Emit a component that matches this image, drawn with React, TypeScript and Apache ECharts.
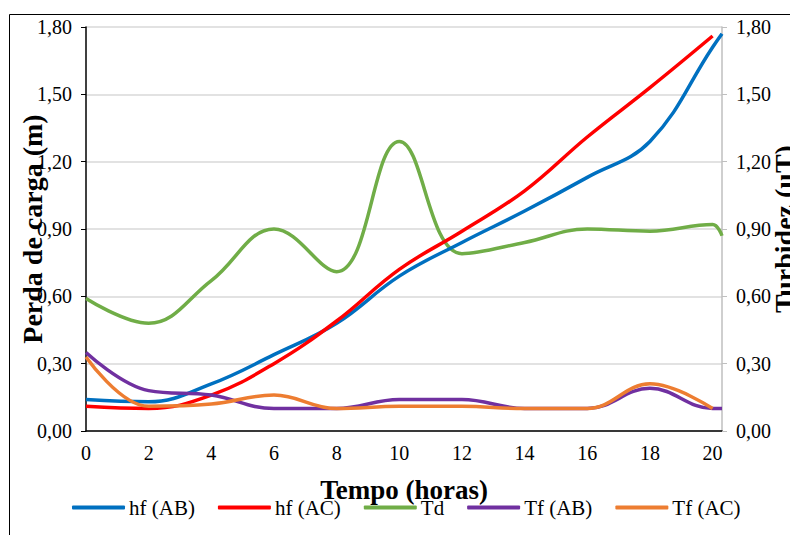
import React, { useEffect, useRef } from "react";
import * as echarts from "echarts";

const hours = [0, 2, 4, 6, 8, 10, 12, 14, 16, 18, 20, 20.3];
const hfAB = [0.14, 0.13, 0.21, 0.34, 0.48, 0.69, 0.84, 0.98, 1.13, 1.29, 1.71, 1.77];
const hfAC = [0.11, 0.1, 0.16, 0.3, 0.49, 0.72, 0.89, 1.07, 1.31, 1.53, 1.76];
const td = [0.59, 0.48, 0.67, 0.9, 0.71, 1.29, 0.79, 0.84, 0.9, 0.89, 0.92, 0.87];
const tfAB = [0.35, 0.18, 0.16, 0.1, 0.1, 0.14, 0.14, 0.1, 0.1, 0.19, 0.1, 0.1];
const tfAC = [0.33, 0.11, 0.12, 0.16, 0.1, 0.11, 0.11, 0.1, 0.1, 0.21, 0.1];
const seriesNames = ["hf (AB)", "hf (AC)", "Td", "Tf (AB)", "Tf (AC)"];
const colors = ["#0070C0", "#FF0000", "#70AD47", "#7030A0", "#ED7D31"];

const pair = (vals: number[]) => vals.map((v, i) => [hours[i], v]);
const fmt = (v: number) => v.toFixed(2).replace(".", ",");
const FONT = "'Liberation Serif', 'Times New Roman', serif";

export default function App() {
  const ref = useRef<HTMLDivElement>(null);
  useEffect(() => {
    const chart = echarts.init(ref.current!, null, { renderer: "svg" });
    const allData = [hfAB, hfAC, td, tfAB, tfAC];
    const titleStyle = { fontFamily: FONT, fontSize: 28, fontWeight: "bold", color: "#000" };
    chart.setOption({
      animation: false,
      textStyle: { fontFamily: FONT },
      grid: { left: 86, right: 68, top: 27, bottom: 104, outerBoundsMode: "none", containLabel: false },
      graphic: [
        {
          type: "rect",
          shape: { x: 9.5, y: 14.5, width: 900, height: 700 },
          style: { fill: "none", stroke: "#000", lineWidth: 1 },
          silent: true,
        },
      ],
      legend: {
        top: 492,
        left: 67,
        itemWidth: 53,
        itemHeight: 4,
        itemGap: 23,
        icon: "roundRect",
        textStyle: { fontFamily: FONT, fontSize: 21, color: "#000", padding: [0, 0, 0, -1] },
        data: seriesNames,
      },
      xAxis: {
        type: "value",
        min: 0,
        max: 20.3,
        interval: 2,
        name: "Tempo (horas)",
        nameLocation: "middle",
        nameGap: 45,
        nameMoveOverlap: false,
        nameTextStyle: { ...titleStyle, fontSize: 27 },
        axisLine: { lineStyle: { color: "#000", width: 1.5 } },
        axisTick: { show: false },
        splitLine: { show: false },
        axisLabel: { fontFamily: FONT, fontSize: 20, color: "#000", margin: 12, showMaxLabel: false },
      },
      yAxis: [
        {
          type: "value",
          min: 0,
          max: 1.8,
          interval: 0.3,
          position: "left",
          name: "Perda de carga (m)",
          nameLocation: "middle",
          nameRotate: 90,
          nameGap: 40,
          nameMoveOverlap: false,
          nameTextStyle: titleStyle,
          axisLine: { show: true, lineStyle: { color: "#000", width: 1.5 } },
          axisTick: { show: true, length: 5, lineStyle: { color: "#000" } },
          splitLine: { show: true, lineStyle: { color: "#D9D9D9", width: 1.5 } },
          axisLabel: { fontFamily: FONT, fontSize: 20, color: "#000", margin: 14, formatter: fmt },
        },
        {
          type: "value",
          min: 0,
          max: 1.8,
          interval: 0.3,
          position: "right",
          name: "Turbidez (uT)",
          nameLocation: "middle",
          nameRotate: 90,
          nameGap: 48,
          nameMoveOverlap: false,
          nameTextStyle: titleStyle,
          axisLine: { show: true, lineStyle: { color: "#BFBFBF", width: 1.5 } },
          axisTick: { show: true, length: 5, lineStyle: { color: "#BFBFBF" } },
          splitLine: { show: false },
          axisLabel: { fontFamily: FONT, fontSize: 20, color: "#000", margin: 14, formatter: fmt },
        },
      ],
      series: seriesNames.map((n, i) => ({
        name: n,
        type: "line",
        yAxisIndex: i >= 2 ? 1 : 0,
        data: pair(allData[i]),
        smooth: 0.4,
        showSymbol: false,
        symbol: "none",
        lineStyle: { color: colors[i], width: 3.5 },
        itemStyle: { color: colors[i] },
        z: [3, 4, 2, 5, 6][i],
      })),
    });
    return () => chart.dispose();
  }, []);
  return (
    <div
      ref={ref}
      style={{ position: "absolute", left: 0, top: 0, width: 790, height: 535, background: "#fff" }}
    />
  );
}
